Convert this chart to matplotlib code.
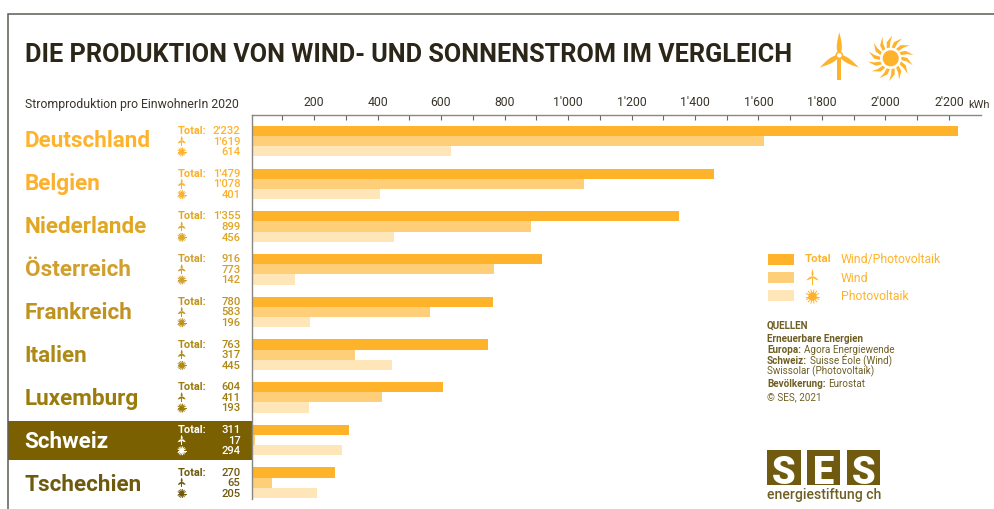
import numpy as np
import matplotlib
matplotlib.use('Agg')
import matplotlib.pyplot as plt
from matplotlib.patches import Circle, Polygon, Rectangle

W, H = 995, 509
plt.rcParams['font.family'] = ['Roboto', 'DejaVu Sans']

countries = ['Deutschland', 'Belgien', 'Niederlande', 'Österreich', 'Frankreich',
             'Italien', 'Luxemburg', 'Schweiz', 'Tschechien']
name_colors = ['#FFB22B', '#FDB02B', '#DFA722', '#D19F2C', '#C0931E',
               '#AE8A14', '#9B7B0C', '#FFFFFF', '#6E5A0E']

# printed numbers
total_labels = [2232, 1479, 1355, 916, 780, 763, 604, 311, 270]
wind_labels = [1619, 1078, 899, 773, 583, 317, 411, 17, 65]
solar_labels = [614, 401, 456, 142, 196, 445, 193, 294, 205]

# bar lengths, they differ a bit from the printed numbers
total_bars = [2228, 1459, 1348, 918, 763, 747, 606, 311, 266]
wind_bars = [1617, 1051, 883, 766, 566, 328, 415, 14, 66]
solar_bars = [630, 407, 452, 140, 187, 445, 183, 289, 208]

ticks_minor = list(range(100, 2300, 100))
ticks_major = list(range(200, 2400, 200))

ORANGE = '#FFB32A'
MID = '#FFCE78'
LIGHT = '#FFE6B8'
BROWN = '#7A6000'
SOURCE = '#6F5F25'
DARK = '#2B2618'


def fmt(v):
    return f'{v:,}'.replace(',', "'")


def px(size):
    return size * 0.72


def turbine(ax, cx, cy, s, color, hub=True, fat=0.11, tower=0.17):
    # s = blade length in px
    for ang in (90, 212, 328):
        a = np.radians(ang)
        d = np.array([np.cos(a), -np.sin(a)])
        n = np.array([d[1], -d[0]])
        t = np.linspace(0, 1, 20)
        w = fat * s * np.sin(np.pi * t ** 0.7)
        up = np.outer(t * s, d) + np.outer(w, n)
        lo = np.outer(t * s, d) - np.outer(w, n)
        ax.add_patch(Polygon(np.vstack([up, lo[::-1]]) + [cx, cy], fc=color, ec='none'))
    ax.add_patch(Rectangle((cx - tower / 2 * s, cy), tower * s, 1.08 * s, fc=color, ec='none'))
    if hub:
        ax.add_patch(Circle((cx, cy), 0.17 * s, fc=color, ec='none'))
        ax.add_patch(Circle((cx, cy), 0.1 * s, fc='white', ec='none'))


def sun(ax, cx, cy, r, color, n=14):
    ax.add_patch(Circle((cx, cy), 0.35 * r, fc=color, ec='none'))
    for a in np.linspace(0, 2 * np.pi, n, endpoint=False):
        pts = []
        for rr, da in ((0.47, -0.15), (0.72, -0.02), (1.0, 0.3), (0.72, 0.2), (0.47, 0.15)):
            pts.append((cx + rr * r * np.cos(a + da), cy + rr * r * np.sin(a + da)))
        ax.add_patch(Polygon(pts, fc=color, ec='none'))


def small_sun(ax, cx, cy, r, color):
    ax.add_patch(Circle((cx, cy), 0.62 * r, fc=color, ec='none'))
    for a in np.linspace(0, 2 * np.pi, 14, endpoint=False):
        ax.plot([cx, cx + r * np.cos(a)], [cy, cy + r * np.sin(a)], color=color, lw=0.7)


fig = plt.figure(figsize=(W / 100, H / 100), dpi=100, facecolor='white')

# overlay in pixel coordinates for text, frame, icons
bg = fig.add_axes([0, 0, 1, 1])
bg.set_xlim(0, W)
bg.set_ylim(H, 0)
bg.axis('off')

bg.plot([7.5, 7.5, W], [H, 13.5, 13.5], color='#5F5B55', lw=1.1, solid_joinstyle='miter')
bg.add_patch(Rectangle((8, 420.7), 244, 39.5, fc=BROWN, ec='none'))

bg.text(25, 62, 'DIE PRODUKTION VON WIND- UND SONNENSTROM IM VERGLEICH', fontsize=px(25.2),
        fontweight='bold', color=DARK, va='baseline')
bg.text(25, 108, 'Stromproduktion pro EinwohnerIn 2020', fontsize=px(12.3), color='#3A352A', va='baseline')

turbine(bg, 839.3, 55.3, 23, ORANGE)
sun(bg, 890.7, 58.3, 23, ORANGE)

for i, name in enumerate(countries):
    col = name_colors[i]
    bg.text(24.5, 146.8 + 43 * i, name, fontsize=px(22.5), fontweight='bold', color=col, va='baseline')
    y0 = 131 + 42.7 * i
    bg.text(177.5, y0, 'Total:', fontsize=px(11), fontweight='bold', color=col, va='center')
    for k, v in enumerate((total_labels[i], wind_labels[i], solar_labels[i])):
        bg.text(240.5, y0 + 10.6 * k, fmt(v), fontsize=px(11.2), fontweight='medium', color=col,
                va='center', ha='right')
    turbine(bg, 181.7, y0 + 9.7, 4.8, col, hub=False, fat=0.2, tower=0.24)
    small_sun(bg, 181.7, y0 + 20.9, 4, col)

# legend
for y, c in zip((254, 272.3, 290), (ORANGE, MID, LIGHT)):
    bg.add_patch(Rectangle((767.7, y), 26.3, 10.7, fc=c, ec='none'))
bg.text(805, 259.5, 'Total', fontsize=px(11.4), fontweight='bold', color=ORANGE, va='center')
for y, s in zip((260, 278, 296), ('Wind/Photovoltaik', 'Wind', 'Photovoltaik')):
    bg.text(841, y, s, fontsize=px(12.2), color=ORANGE, va='center')
turbine(bg, 812.5, 276.5, 7.5, ORANGE, hub=False, fat=0.12, tower=0.15)
small_sun(bg, 812.5, 296.5, 6.8, ORANGE)


def source_line(y, bold, regular=None):
    t = bg.text(767, y, bold, fontsize=px(9.9), fontweight='bold', color=SOURCE, va='baseline')
    if regular:
        bg.annotate(regular, xy=(1, 0), xycoords=t, xytext=(2, 0), textcoords='offset points',
                    fontsize=px(9.9), color=SOURCE, va='bottom')


source_line(328.5, 'QUELLEN')
source_line(342, 'Erneuerbare Energien')
source_line(352.8, 'Europa:', 'Agora Energiewende')
source_line(363.5, 'Schweiz:', 'Suisse Éole (Wind)')
bg.text(767, 374, 'Swissolar (Photovoltaik)', fontsize=px(9.9), color=SOURCE, va='baseline')
source_line(387.3, 'Bevölkerung:', 'Eurostat')
bg.text(767, 400, '© SES, 2021', fontsize=px(9.9), color=SOURCE, va='baseline')

# logo
for x0, letter in zip((767.3, 806.7, 846.7), 'SES'):
    bg.add_patch(Rectangle((x0, 449.5), 33.7, 35, fc='#6F5A10', ec='none'))
    bg.text(x0 + 16.8, 483.5, letter, fontsize=px(38), fontweight='black', color='white',
            ha='center', va='baseline')
bg.text(767, 499, 'energiestiftung ch', fontsize=px(14.05), fontweight='medium', color=SOURCE, va='baseline')

# chart
ax = fig.add_axes([252.5 / W, 1 - 499 / H, (980.7 - 252.5) / W, (499 - 114.5) / H])
ax.patch.set_alpha(0)
y = np.arange(len(countries))
h = 0.239
ax.barh(y - h, total_bars, height=h, color=ORANGE)
ax.barh(y, wind_bars, height=h, color=MID)
ax.barh(y + h, solar_bars, height=h, color=LIGHT)
ax.set_xlim(6, 2300)
ax.set_ylim(8.38, -0.625)
ax.spines['right'].set_visible(False)
ax.spines['bottom'].set_visible(False)
for s in ('top', 'left'):
    ax.spines[s].set_color('#8A8680')
    ax.spines[s].set_linewidth(1.0)
ax.set_yticks([])
ax.xaxis.tick_top()
ax.set_xticks(ticks_minor, minor=True)
ax.set_xticks(ticks_major, [fmt(v) for v in ticks_major])
ax.tick_params(axis='x', which='both', direction='in', length=px(5), width=0.8, color='#6A665F')
ax.tick_params(axis='x', which='major', pad=px(5), labelsize=px(12.3), labelcolor='#3A352A')
bg.text(968.5, 108, 'kWh', fontsize=px(11), color='#3A352A', va='baseline')

fig.savefig('out.png', dpi=100)
